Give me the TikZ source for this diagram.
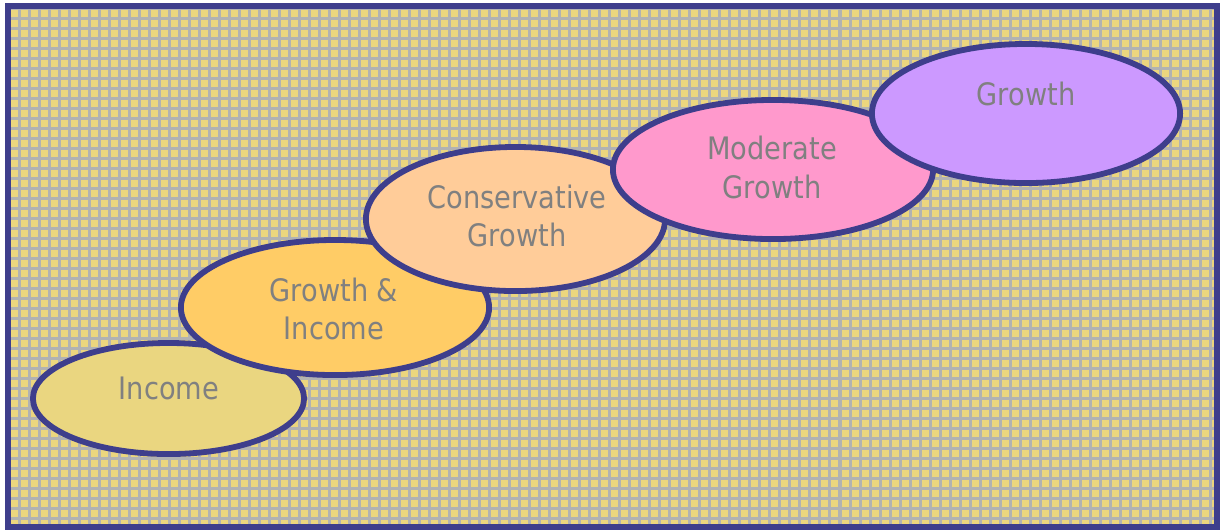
\documentclass[tikz,border=0pt]{standalone}
\usepackage{fontspec}
\setmainfont{DejaVu Sans}[FakeStretch=0.88]
\usetikzlibrary{shapes.geometric}

\definecolor{frameblue}{RGB}{62,62,140}
\definecolor{tilefill}{RGB}{236,214,126}
\definecolor{tileline}{RGB}{178,178,178}
\definecolor{labelgray}{RGB}{128,128,128}
\definecolor{incomefill}{RGB}{234,214,128}
\definecolor{mixfill}{RGB}{255,204,102}
\definecolor{consfill}{RGB}{255,204,153}
\definecolor{modfill}{RGB}{255,153,204}
\definecolor{growfill}{RGB}{204,153,255}

\begin{document}
\begin{tikzpicture}[
  x=0.01cm, y=-0.01cm,
  fund/.style={ellipse, draw=frameblue, line width=0.058cm, inner sep=0pt},
  tag/.style={text=labelgray, align=center, inner sep=0pt, font=\fontsize{8.8pt}{10.95pt}\selectfont},
  tile/.style={draw=tileline, line width=0.03cm}
]
  \useasboundingbox (0,0) rectangle (1222,529);
  \fill[white] (0,0) rectangle (1222,529);

  % checked backdrop
  \fill[tilefill] (8,6) rectangle (1217,526.5);
  \begin{scope}
    \clip (8,6) rectangle (1217,526.5);
    \draw[tile, shift={(-0.5,-2)}] (0,0) grid[step=1mm] (1230,540);
  \end{scope}
  \draw[frameblue, line width=0.06cm] (8,6) rectangle (1217,526.5);

  % risk steps, lowest first
  \node[fund, fill=incomefill, minimum width=2.71cm, minimum height=1.11cm] (income) at (168.5,398.5) {};
  \node[fund, fill=mixfill, minimum width=3.08cm, minimum height=1.35cm] (growthinc) at (335,307.5) {};
  \node[fund, fill=consfill, minimum width=2.99cm, minimum height=1.44cm] (conserv) at (515.5,219) {};
  \node[fund, fill=modfill, minimum width=3.20cm, minimum height=1.39cm] (moderate) at (773,169.5) {};
  \node[fund, fill=growfill, minimum width=3.08cm, minimum height=1.39cm] (growth) at (1026,113.5) {};

  \node[tag, anchor=base] (income-t) at (169,399) {Income};
  \node[tag] (growthinc-t) at (334,309) {Growth \&\\Income};
  \node[tag] (conserv-t) at (517,216) {Conservative\\Growth};
  \node[tag] (moderate-t) at (772,167.5) {Moderate\\Growth};
  \node[tag, anchor=base] (growth-t) at (1026,105) {Growth};
\end{tikzpicture}
\end{document}
